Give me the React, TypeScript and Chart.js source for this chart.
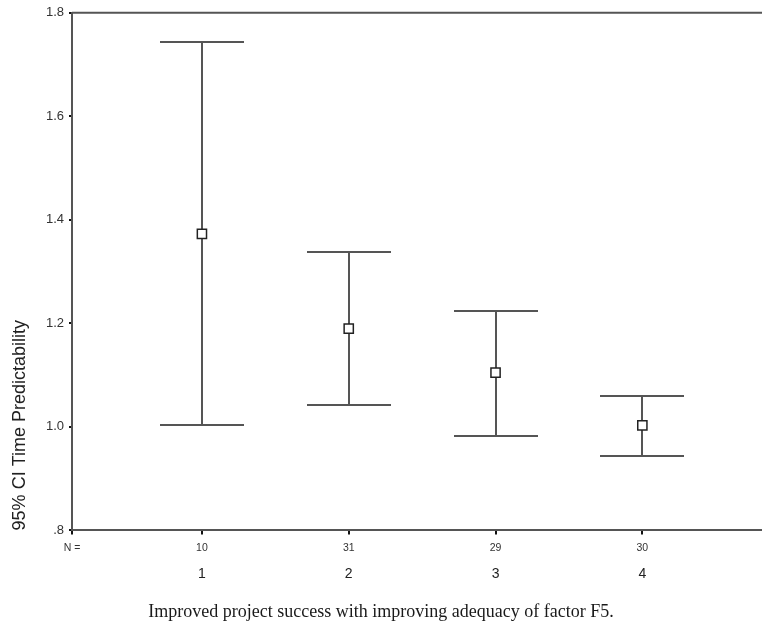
import React, { useEffect, useRef } from 'react';
import { Chart, registerables } from 'chart.js';

Chart.register(...registerables);

// ---- data ----
const categories = ['1', '2', '3', '4'];
const categoryValues = [1, 2, 3, 4];
const nCounts = ['10', '31', '29', '30'];
const nLabel = 'N =';
const means = [1.373, 1.19, 1.105, 1.003];
const lowerCI = [1.003, 1.043, 0.983, 0.943];
const upperCI = [1.744, 1.337, 1.223, 1.059];
const yTicks = [0.8, 1.0, 1.2, 1.4, 1.6, 1.8];
const yTitle = '95% CI Time Predictability';
const caption = 'Improved project success with improving adequacy of factor F5.';

const X_MIN = 0.115;
const X_MAX = 4.815;
const CAP_HALF = 42;

const fmtY = (v: number) => (Math.round(v * 10) / 10).toFixed(1).replace(/^0/, '');

const errorBarPlugin = {
  id: 'errorBars',
  beforeDatasetsDraw(chart: any) {
    const { ctx, chartArea } = chart;
    const x = chart.scales.x;
    const y = chart.scales.y;
    ctx.save();
    ctx.strokeStyle = '#555';
    ctx.lineWidth = 2;
    categoryValues.forEach((c, i) => {
      const px = Math.round(x.getPixelForValue(c));
      const pl = Math.round(y.getPixelForValue(lowerCI[i]));
      const pu = Math.round(y.getPixelForValue(upperCI[i]));
      ctx.beginPath();
      ctx.moveTo(px, pu);
      ctx.lineTo(px, pl);
      ctx.moveTo(px - CAP_HALF, pu);
      ctx.lineTo(px + CAP_HALF, pu);
      ctx.moveTo(px - CAP_HALF, pl);
      ctx.lineTo(px + CAP_HALF, pl);
      ctx.stroke();
    });
    ctx.beginPath();
    ctx.moveTo(chartArea.left, chartArea.top);
    ctx.lineTo(chartArea.right, chartArea.top);
    ctx.stroke();
    ctx.restore();
  },
};

const noPad = (s: any) => {
  s.paddingLeft = 0;
  s.paddingRight = 0;
};

export default function App() {
  const ref = useRef<HTMLCanvasElement>(null);
  useEffect(() => {
    document.body.style.margin = '0';
    const canvas = ref.current;
    if (!canvas) return;
    const chart = new Chart(canvas, {
      type: 'scatter',
      data: {
        datasets: [
          {
            data: categoryValues.map((c, i) => ({ x: c, y: means[i] })),
            pointStyle: 'rect',
            pointRadius: 6.5,
            backgroundColor: '#ffffff',
            borderColor: '#222',
            borderWidth: 1.5,
            showLine: false,
          },
        ],
      },
      options: {
        responsive: false,
        animation: false,
        layout: { autoPadding: false, padding: { top: 12, right: 0, left: 0, bottom: 0 } },
        plugins: {
          legend: { display: false },
          tooltip: { enabled: false },
          title: {
            display: true,
            position: 'bottom',
            text: caption,
            color: '#1a1a1a',
            font: { family: "'Liberation Serif', 'Times New Roman', serif", size: 18, weight: 'normal' },
            padding: { top: 9, bottom: 1.4 },
          },
        },
        scales: {
          x: {
            type: 'linear',
            position: 'bottom',
            weight: 1,
            min: X_MIN,
            max: X_MAX,
            afterBuildTicks: (s: any) => {
              s.ticks = [X_MIN, ...categoryValues].map((v) => ({ value: v }));
            },
            afterFit: (s: any) => {
              s.height = 24;
              noPad(s);
            },
            ticks: {
              autoSkip: false,
              maxRotation: 0,
              padding: 7,
              color: '#333',
              font: { family: "'Liberation Sans', Arial, sans-serif", size: 10.5 },
              callback: (_v: any, i: number) => (i === 0 ? nLabel : nCounts[i - 1]),
            },
            grid: { drawOnChartArea: false, tickLength: 4, color: '#111', lineWidth: 2 },
            border: { color: '#555', width: 2 },
          },
          x2: {
            type: 'linear',
            position: 'bottom',
            weight: 2,
            min: X_MIN,
            max: X_MAX,
            afterBuildTicks: (s: any) => {
              s.ticks = categoryValues.map((v) => ({ value: v }));
            },
            afterFit: (s: any) => {
              s.height = 37.6;
              noPad(s);
            },
            ticks: {
              autoSkip: false,
              maxRotation: 0,
              padding: 3,
              color: '#222',
              font: { family: "'Liberation Sans', Arial, sans-serif", size: 14 },
              callback: (_v: any, i: number) => categories[i],
            },
            grid: { display: false },
            border: { display: false },
          },
          y: {
            type: 'linear',
            min: 0.8,
            max: 1.8,
            afterBuildTicks: (s: any) => {
              s.ticks = yTicks.map((v) => ({ value: v }));
            },
            afterFit: (s: any) => {
              s.width = 72;
            },
            ticks: {
              padding: 5,
              color: '#333',
              font: { family: "'Liberation Sans', Arial, sans-serif", size: 13 },
              callback: (v: any) => fmtY(Number(v)),
            },
            grid: { drawOnChartArea: false, tickLength: 3, color: '#111', lineWidth: 2 },
            border: { color: '#555', width: 2 },
            title: {
              display: true,
              text: yTitle,
              align: 'start',
              color: '#222',
              font: { family: "'Liberation Sans', Arial, sans-serif", size: 18 },
              padding: { top: 9, bottom: 0 },
            },
          },
        },
      },
      plugins: [errorBarPlugin],
    } as any);
    return () => chart.destroy();
  }, []);
  return <canvas ref={ref} width={762} height={624} style={{ display: 'block' }} />;
}
